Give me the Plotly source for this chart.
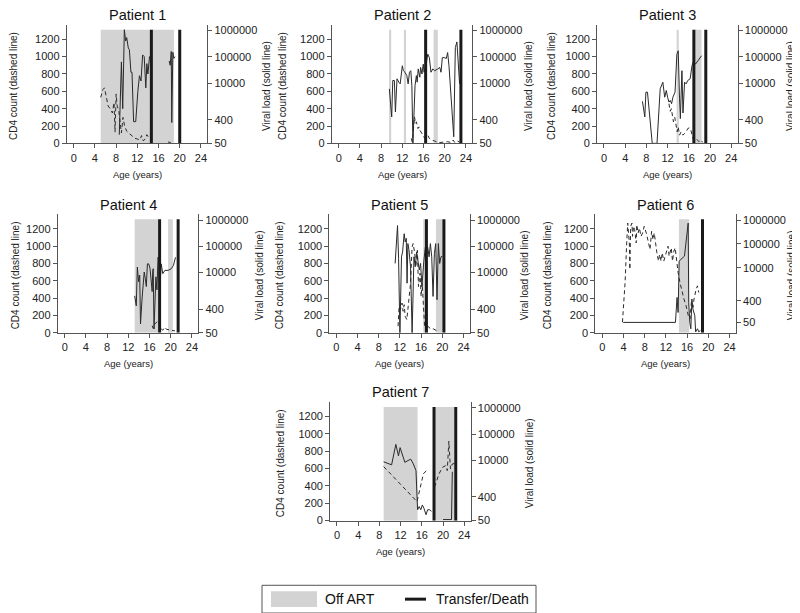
import math
import plotly.graph_objects as go

# ---------------- data ----------------
titles = ["Patient 1", "Patient 2", "Patient 3", "Patient 4", "Patient 5", "Patient 6", "Patient 7"]
age_ticks = [0, 4, 8, 12, 16, 20, 24]
cd4_ticks = [0, 200, 400, 600, 800, 1000, 1200]
vl_tickvals = [50, 400, 10000, 100000, 1000000]
vl_ticktext = ["50", "400", "10000", "100000", "1000000"]

# Patient 1
p1_cd4_age = [5.1, 5.5, 5.8, 6.1, 6.5, 6.9, 7.3, 7.6, 7.8, 8.0, 8.2, 8.5, 8.8, 9.0, 9.3, 9.6, 10.0, 10.5,
              11.0, 11.5, 12.0, 12.5, 12.8, 13.1, 13.5, 13.8, 14.2, 14.6, None, 17.8, 18.3]
p1_cd4 = [530, 620, 640, 560, 430, 400, 350, 470, 130, 570, 430, 380, 220, 120, 300, 200, 140, 110,
          80, 60, 50, 40, 90, 30, 50, 100, 60, 40, None, 15, 10]
p1_vl_age = [8.6, 9.0, 9.25, 9.55, 9.8, 10.0, 10.3, 10.5, 10.8, 11.0, 11.3, 11.7, 12.1, 12.4, 12.7, 13.0,
             13.3, 13.6, 13.8, 14.0, 14.3, 14.6, 14.8, None, 18.0, 18.2, 18.4, 18.5, 18.7, 18.9, 19.1]
p1_vl = [107, 64000, 1050, 1080000, 400000, 540000, 217000, 187000, 25800, 25800, 336, 336, 4830, 19000,
         12000, 118000, 101500, 6550, 55000, 22100, 101500, 75000, 87000, None, 69400, 47400, 160000,
         311, 148500, 87000, 101500]
p1_off_art = [(5.1, 18.9)]
p1_transfer = [14.65, 20.0]

# Patient 2
p2_cd4_age = [13.7, 13.85, 14.0, 14.3, 14.5, 14.65, 14.95, 15.15, 15.3, 15.6, 15.9, 16.2, 16.5, 16.8,
              17.1, 17.55, 18.1, 18.7, 19.3, 19.9, 20.5, 21.2, 21.6, 21.9, 22.4, 22.8]
p2_cd4 = [57, 20, 90, 305, 230, 248, 171, 190, 152, 130, 95, 60, 76, 95, 57, 38, 27, 11, 11, 15, 19, 11,
          38, 10, 27, 12]
p2_vl_age = [9.55, 10.0, 10.2, 10.5, 10.7, 11.0, 11.35, 11.6, 12.0, 12.2, 12.5, 12.85, 13.1, 13.35, 13.6,
             13.8, 14.0, 14.4, 14.65, 14.8, 15.0, 15.3, 15.45, 15.7, 15.95, 16.1, 16.45, 16.8, 17.1, 17.4,
             17.75, 18.1, 18.7, 19.05, 19.3, 19.55, 19.9, 20.3, 20.55, 20.8, 21.7, 22.0, 22.3, 22.8]
p2_vl = [6000, 510, 12500, 12500, 790, 14500, 10800, 9300, 45500, 29500, 25800, 19200, 9300, 25800, 29500,
         8000, 50, 8000, 19200, 10800, 34500, 16600, 39500, 22100, 52500, 25800, 45500, 126000, 93000,
         25800, 34500, 29500, 34500, 39500, 25800, 93000, 93000, 87000, 146000, 45500, 89, 225000, 370000,
         9300]
p2_off_art = [(9.5, 9.9), (12.3, 12.7), (17.9, 18.7)]
p2_transfer = [16.4, 23.05]

# Patient 3
p3_cd4_age = [12.25, 12.5, 12.7, 12.9, 13.1, 13.35, 13.6, 13.8, 14.0, 14.25, 14.55, 14.9, 15.2, 15.5,
              15.8, 16.1, 16.4, 16.75, 17.1, 17.5, 17.9, 18.3, 18.6]
p3_cd4 = [457, 370, 400, 343, 248, 300, 171, 133, 190, 95, 133, 95, 114, 133, 171, 179, 150, 57, 76, 40,
          19, 38, 11]
p3_vl_age = [7.25, 7.7, 7.9, 8.2, 9.1, 10.0, 10.6, 11.1, 11.45, 11.75, 12.0, 12.25, 12.5, 12.75, 13.0,
             13.4, 13.75, 14.0, 14.25, 14.4, 14.7, 14.9, 15.2, 15.5, 15.8, 16.25, 16.6, 16.9, 17.25, 17.9,
             18.4]
p3_vl = [2000, 510, 4480, 4480, 50, 50, 6000, 10800, 2880, 5200, 2880, 1880, 2170, 1630, 2880, 4480,
         126000, 170000, 2500, 440, 29500, 718, 10800, 9300, 12500, 14500, 45500, 70000, 52500, 81000,
         110000]
p3_off_art = [(13.7, 14.1), (16.9, 18.4)]
p3_transfer = [16.95, 19.2]

# Patient 4
p4_cd4_age = [16.5, 16.7, 17.0, 17.3, 17.6, 17.9, 18.2, 18.5, 18.9, 19.2, 19.5, 20.1, 20.8]
p4_cd4 = [82, 50, 101, 127, 139, 82, 45, 30, 64, 40, 37, 26, 22]
p4_vl_age = [13.2, 13.5, 13.7, 13.95, 14.15, 14.3, 14.6, 14.8, 15.0, 15.2, 15.4, 15.6, 15.85, 16.1, 16.3,
             16.5, 16.6, 16.7, 16.85, 17.0, 17.2, 17.4, 17.6, 17.8, 18.0, 18.2, 18.5, 18.9, 19.5, 20.1,
             20.5, 20.9]
p4_vl = [1280, 530, 15900, 4440, 7900, 108, 1060, 3830, 10400, 5900, 2900, 21300, 21300, 13900, 4440,
         1870, 10400, 13900, 70, 1630, 6800, 2170, 37700, 28200, 3830, 21300, 9000, 12000, 12000, 13900,
         18500, 37700]
p4_off_art = [(13.2, 17.6), (19.5, 20.4)]
p4_transfer = [17.9, 21.4]

# Patient 5
p5_cd4_age = [11.65, 11.85, 12.1, 12.4, 12.6, 12.8, 13.0, 13.3, 13.5, 13.8, 14.0, 14.3, 14.5, 14.8, 15.0,
              15.3, 15.5, 15.8, 16.0, 16.2, 16.4, 16.65, 17.25, 17.5, 17.9, 18.3, 18.7, 19.1]
p5_cd4 = [76, 305, 270, 343, 248, 324, 190, 152, 267, 419, 571, 990, 1029, 914, 762, 952, 533, 686, 419,
          571, 381, 76, 76, 57, 40, 45, 30, 19]
p5_vl_age = [11.1, 11.55, 11.75, 12.0, 12.3, 12.5, 12.8, 13.0, 13.2, 13.35, 13.5, 13.7, 14.0, 14.3, 14.65,
             14.9, 15.15, 15.4, 15.65, 15.9, 16.15, 16.5, 16.8, 17.25, 17.5, 17.75, 18.0, 18.25, 18.5,
             18.75, 19.0, 19.25, 19.5, 19.75, 20.0]
p5_vl = [22100, 615000, 34500, 50, 39500, 61000, 300000, 146000, 200000, 3900, 126000, 74000, 16600, 50,
         39500, 16600, 61000, 29500, 12500, 22100, 2880, 25800, 93000, 93000, 39500, 126000, 39500, 1220,
         52500, 126000, 910, 126000, 22100, 39500, 42000]
p5_off_art = [(16.4, 17.0), (18.8, 20.1)]
p5_transfer = [17.0, 20.3]

# Patient 6
p6_cd4_age = [3.8, 4.1, 4.3, 4.6, 4.8, 5.1, 5.2, 5.35, 5.6, 5.7, 5.9, 6.1, 6.4, 6.5, 6.75, 7.0, 7.3, 7.6,
              7.9, 8.3, 8.7, 9.0, 9.3, 9.55, 9.8, 10.1, 10.3, 10.6, 10.8, 11.1, 11.3, 11.6, 12.0, 12.4,
              12.6, 13.0, 13.25, 13.5, 13.75, 14.0, 14.3, 14.65, 15.0, 15.4, 15.8, 16.05, 16.3, 16.55,
              16.8, 17.1, 17.3, 17.7, 17.95, 18.2]
p6_cd4 = [122, 427, 579, 1036, 1265, 1036, 731, 1227, 1265, 1112, 1227, 1189, 1036, 1246, 1150, 1208,
          1112, 1150, 1227, 1150, 1036, 960, 1170, 1074, 1150, 998, 922, 827, 903, 827, 922, 827, 922,
          998, 884, 979, 827, 941, 979, 827, 693, 579, 484, 389, 312, 236, 179, 160, 350, 293, 389, 503,
          541, 465]
p6_vl_age = [3.95, 13.8, 14.1, 14.3, 14.5, 14.9, 15.3, 15.5, 16.2, 16.3, 16.5, 16.7, 16.9, 17.1, 17.45,
             17.6, 17.95, 18.2, 18.5]
p6_vl = [50, 50, 560, 130, 18900, 22200, 26000, 30500, 746000, 345, 50, 27, 480, 180, 96, 20, 27, 20, 23]
p6_off_art = [(14.45, 16.4)]
p6_transfer = [18.9]

# Patient 7
p7_cd4_age = [8.8, 15.1, 15.3, 15.7, 16.0, 16.3, 16.6, 16.9, None, 18.4, 18.6, 19.25, 19.9, 20.5, 20.8,
              21.1, 21.4, 21.75, 22.2]
p7_cd4 = [623, 219, 275, 389, 464, 540, 560, 577, None, 389, 426, 540, 615, 634, 577, 917, 596, 653, 660]
p7_vl_age = [8.8, 10.3, 11.1, 11.6, 11.9, 12.8, 13.9, 14.4, 14.9, 15.2, 15.5, 15.8, 16.1, 16.4, 16.8,
             17.1, 17.5, 17.8, None, 20.0, 21.6, 21.75, 21.9]
p7_vl = [8800, 6700, 40500, 14700, 30500, 8400, 11100, 7300, 4050, 130, 172, 130, 198, 148, 84, 130, 130,
         112, None, 55, 55, 3500, 3500]
p7_off_art = [(8.8, 15.2), (18.5, 22.2)]
p7_transfer = [18.3, 22.4]

legend_labels = ["Off ART", "Transfer/Death"]

cd4_age = [p1_cd4_age, p2_cd4_age, p3_cd4_age, p4_cd4_age, p5_cd4_age, p6_cd4_age, p7_cd4_age]
cd4 = [p1_cd4, p2_cd4, p3_cd4, p4_cd4, p5_cd4, p6_cd4, p7_cd4]
vl_age = [p1_vl_age, p2_vl_age, p3_vl_age, p4_vl_age, p5_vl_age, p6_vl_age, p7_vl_age]
vl = [p1_vl, p2_vl, p3_vl, p4_vl, p5_vl, p6_vl, p7_vl]
off_art = [p1_off_art, p2_off_art, p3_off_art, p4_off_art, p5_off_art, p6_off_art, p7_off_art]
transfer = [p1_transfer, p2_transfer, p3_transfer, p4_transfer, p5_transfer, p6_transfer, p7_transfer]

# ---------------- layout (pixels) ----------------
W, H = 800, 613
FONT = "Liberation Sans, Arial, sans-serif"
panel_left = [58.8, 323.8, 589.1, 49.8, 321.4, 587.4, 322.1]
panel_bottom = [136.7, 136.7, 136.7, 328.0, 328.0, 328.0, 517.7]
left_title_x = [6, 275, 544, 7, 271, 539, 272]
right_title_x = [259, 521, 783, 251, 516, 783, 521]
PW, PH = 140.5, 120.0
XR = [-1.3, 25.2]
CD4R = [0, 1370]
BAR_TOP = 1310
vl_log_range = [[math.log10(50), 6.231]] * 5 + [[1.262, 6.256], [math.log10(50), 6.231]]

def px(x):
    return x / W

def py(y):
    return 1 - y / H

AXC = "#555555"
TXT = "#222222"
LINEC = "#2a2a2a"

fig = go.Figure()
layout = dict(width=W, height=H, margin=dict(l=0, r=0, t=0, b=0), autosize=False,
              paper_bgcolor="white", plot_bgcolor="rgba(0,0,0,0)", showlegend=False,
              font=dict(family=FONT, color=TXT))
shapes = []
annotations = []

for i in range(7):
    k = i + 1
    xs = "" if k == 1 else str(k)
    ys = "" if k == 1 else str(k)
    ys2 = str(k + 7)
    L = panel_left[i]
    B = panel_bottom[i]
    xdom = [px(L), px(L + PW)]
    ydom = [py(B), py(B - PH)]
    tick_font = dict(size=11, color=TXT, family=FONT)
    layout["xaxis" + xs] = dict(domain=xdom, range=XR, anchor="y" + ys, tickvals=age_ticks,
                                ticks="outside", ticklen=4, tickcolor=AXC, showline=True, linecolor=AXC,
                                linewidth=1, showgrid=False, zeroline=False, tickfont=tick_font,
                                fixedrange=True)
    layout["yaxis" + ys] = dict(domain=ydom, range=CD4R, anchor="x" + xs, tickvals=cd4_ticks,
                                ticks="outside", ticklen=4, tickcolor=AXC, showline=True, linecolor=AXC,
                                linewidth=1, showgrid=False, zeroline=False, tickfont=tick_font)
    layout["yaxis" + ys2] = dict(overlaying="y" + ys, side="right", anchor="x" + xs, type="log",
                                 range=vl_log_range[i], tickvals=vl_tickvals, ticktext=vl_ticktext,
                                 ticks="outside", ticklen=4, tickcolor=AXC, showline=True, linecolor=AXC,
                                 linewidth=1, showgrid=False, zeroline=False, tickfont=tick_font)

    xref = "x" + xs
    yref = "y" + ys
    for (a0, a1) in off_art[i]:
        shapes.append(dict(type="rect", xref=xref, yref=yref, x0=a0, x1=a1, y0=0, y1=BAR_TOP,
                           fillcolor="#d3d3d3", line=dict(width=0), layer="below"))
    for a in transfer[i]:
        shapes.append(dict(type="line", xref=xref, yref=yref, x0=a, x1=a, y0=0, y1=BAR_TOP,
                           line=dict(color="#1a1a1a", width=3), layer="above"))

    fig.add_trace(go.Scatter(x=cd4_age[i], y=cd4[i], mode="lines", xaxis=xref, yaxis=yref,
                             line=dict(color=LINEC, width=1, dash="4px,3px"), connectgaps=False,
                             hoverinfo="skip"))
    fig.add_trace(go.Scatter(x=vl_age[i], y=vl[i], mode="lines", xaxis=xref, yaxis="y" + ys2,
                             line=dict(color=LINEC, width=1), connectgaps=False, hoverinfo="skip"))

    cx = L + PW / 2
    annotations.append(dict(text=titles[i], x=px(cx), y=py(B - PH - 9.5), xref="paper", yref="paper",
                            showarrow=False, xanchor="center", yanchor="middle",
                            font=dict(size=14.5, color="#111111", family=FONT)))
    annotations.append(dict(text="Age (years)", x=px(cx), y=py(B + 31.5), xref="paper", yref="paper",
                            showarrow=False, xanchor="center", yanchor="middle",
                            font=dict(size=9.5, color=TXT, family=FONT)))
    annotations.append(dict(text="CD4 count (dashed line)", x=px(left_title_x[i]), y=py(B - PH / 2 + 2),
                            xref="paper", yref="paper", showarrow=False, textangle=-90,
                            xanchor="center", yanchor="middle", font=dict(size=10, color=TXT, family=FONT)))
    annotations.append(dict(text="Viral load (solid line)", x=px(right_title_x[i]), y=py(B - PH / 2 + 2),
                            xref="paper", yref="paper", showarrow=False, textangle=-90,
                            xanchor="center", yanchor="middle", font=dict(size=10, color=TXT, family=FONT)))

# legend box (drawn manually)
shapes.append(dict(type="rect", xref="paper", yref="paper", x0=px(254), x1=px(528), y0=py(611), y1=py(583),
                   line=dict(color="#555555", width=1), fillcolor="white", layer="above"))
shapes.append(dict(type="rect", xref="paper", yref="paper", x0=px(263), x1=px(309), y0=py(605), y1=py(589),
                   line=dict(width=0), fillcolor="#d3d3d3", layer="above"))
shapes.append(dict(type="line", xref="paper", yref="paper", x0=px(397), x1=px(418), y0=py(597), y1=py(597),
                   line=dict(color="#1a1a1a", width=3), layer="above"))
annotations.append(dict(text=legend_labels[0], x=px(315), y=py(597), xref="paper", yref="paper",
                        showarrow=False, xanchor="left", yanchor="middle",
                        font=dict(size=14, color="#111111", family=FONT)))
annotations.append(dict(text=legend_labels[1], x=px(426), y=py(597), xref="paper", yref="paper",
                        showarrow=False, xanchor="left", yanchor="middle",
                        font=dict(size=14, color="#111111", family=FONT)))

layout["shapes"] = shapes
layout["annotations"] = annotations
fig.update_layout(**layout)
fig.write_html("out.html")
